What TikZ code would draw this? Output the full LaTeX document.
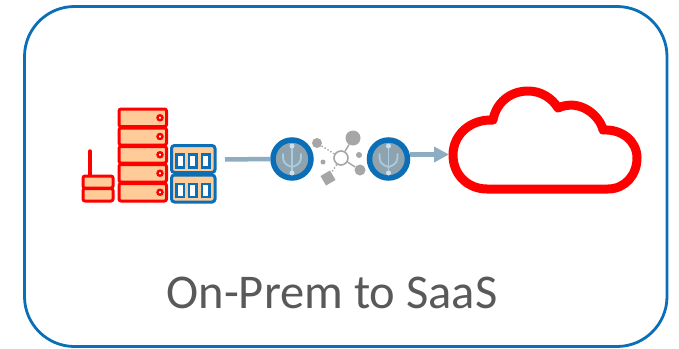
\documentclass[tikz,border=0pt]{standalone}
\usepackage{fontspec}
\setmainfont{Carlito}
\usetikzlibrary{arrows.meta}
\definecolor{frameblue}{HTML}{0A6FB7}
\definecolor{peach}{HTML}{FFCC99}
\definecolor{steel}{HTML}{8DAEC2}
\definecolor{hubgray}{HTML}{8FA3AE}
\definecolor{usb}{HTML}{A9CCE3}
\definecolor{netgray}{HTML}{A6A6A6}
\definecolor{labelgray}{HTML}{595959}
\tikzset{
 frame/.style={draw=frameblue,line width=2.8pt,rounded corners=50pt},
 redbox/.style={draw=red,fill=peach,line width=3pt,rounded corners=2pt,line join=round},
 bluebox/.style={draw=frameblue,fill=peach,line width=3pt,rounded corners=3pt},
 cell/.style={draw=frameblue,fill=white,line width=2.4pt},
 hub/.style={circle,draw=frameblue,fill=hubgray,line width=5.5pt,minimum size=38pt,inner sep=0pt},
 conn/.style={draw=steel,line width=4.5pt},
 netn/.style={circle,fill=netgray,inner sep=0pt},
 netl/.style={draw=netgray,line width=1.4pt},
 usbl/.style={draw=usb,line width=1.8pt,line cap=round},
 usbd/.style={circle,fill=usb!60!white,inner sep=0pt,minimum size=5pt},
}
\begin{document}
\begin{tikzpicture}[x=1pt,y=-1pt]
\useasboundingbox (0,0) rectangle (679,348);
\fill[white] (0,0) rectangle (679,348);
\draw[frame] (24.5,6.5) rectangle (667,346.5);
% small stack
\draw[red,line width=3.4pt,line cap=round] (90,151) -- (90,176);
\draw[redbox] (83,176) rectangle (113,188);
\draw[redbox] (83,188.5) rectangle (113,201);
% tall stack
\foreach \ya/\yb/\n in {109/126.5/a,128/145/b,146.5/163/c,164.5/182/d,183.5/201/e}{
 \draw[redbox] (119,\ya) rectangle (166.5,\yb);
 \draw[red,fill=white,line width=2.4pt] (160,{(\ya+\yb)/2}) circle (2.5pt);
}
% blue units
\foreach \ya in {145.5,175}{
 \draw[bluebox] (171.5,\ya) rectangle (215,\ya+27);
 \foreach \xa in {176.5,189,202}{
  \draw[cell] (\xa,\ya+9) rectangle (\xa+7.5,\ya+22);
 }
}
% network
\node[netn,minimum size=15pt] (n1) at (353,138) {};
\node[netn,minimum size=10pt] (n2) at (317,143) {};
\node[netn,minimum size=11pt] (n3) at (360,170) {};
\node[netn,minimum size=5pt] (n4) at (323,162) {};
\node[netn,minimum size=6pt] (n5) at (359,155) {};
\node[fill=netgray,minimum size=11pt,inner sep=0pt,rotate=30] (n6) at (328,178) {};
\node[circle,draw=netgray,fill=white,line width=1.6pt,minimum size=14pt,inner sep=0pt] (c) at (341,158) {};
\draw[netl] (c) -- (n1);
\draw[netl,dotted] (c) -- (n2);
\draw[netl] (c) -- (n3);
\draw[netl,dotted] (c) -- (n6);
% connectors and hubs
\coordinate (s) at (225,159.5);
\coordinate (t) at (449,154.5);
\node[hub] (h1) at (292,159) {};
\node[hub] (h2) at (388.5,159) {};
\begin{scope}[on background layer/.try]
\end{scope}
\draw[conn] (s) -- (h1.west);
\draw[conn,-{Triangle[length=15pt,width=15pt]}] (h2.east |- t) -- (t);
% usb glyphs
\foreach \h in {h1,h2}{
 \begin{scope}[shift={(\h)}]
  \draw[usbl] (0,13) -- (0,-13);
  \draw[usbl] (0,8) .. controls (-9,5) and (-9,2) .. (-9,-5);
  \draw[usbl] (0,8) .. controls (9,5) and (9,2) .. (9,-5);
  \node[usbd] (d1) at (0,14) {};
  \node[usbd] (d2) at (0,-13) {};
 \end{scope}
}
% cloud
\draw[red,line width=9pt,line join=round] (487,189) -- (608,189)
 .. controls (625,189) and (637,175) .. (637,158)
 .. controls (637,141) and (622,129) .. (603,130)
 .. controls (600,116) and (580,98) .. (558,108)
 .. controls (552,98) and (541,91) .. (528,91)
 .. controls (510,91) and (496,103) .. (493,120)
 .. controls (470,119) and (453,135) .. (453,155)
 .. controls (453,175) and (468,189) .. (487,189) -- cycle;
\node[text=labelgray,font=\fontsize{48.5pt}{50pt}\selectfont,anchor=center] (lbl) at (332,293) {On-Prem to SaaS};
\end{tikzpicture}
\end{document}
